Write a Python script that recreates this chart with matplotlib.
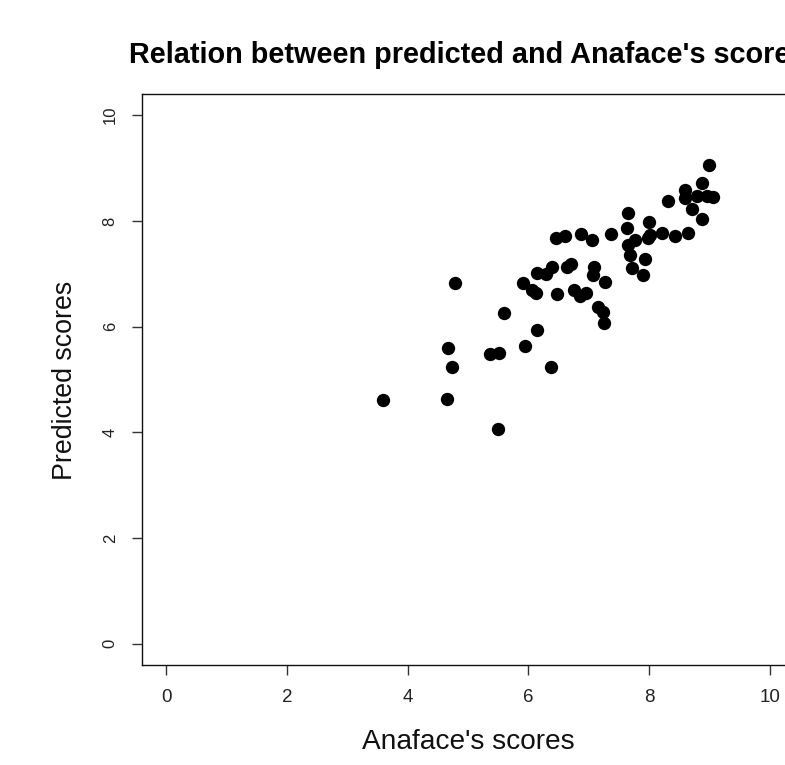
import matplotlib
matplotlib.use("Agg")
import matplotlib.pyplot as plt

anaface = [3.59, 4.65, 4.67, 4.74, 4.78, 5.50, 5.36, 5.51, 5.60, 5.94,
           6.14, 6.37, 5.91, 6.06, 6.13, 6.14, 6.29, 6.39, 6.46, 6.47,
           6.61, 6.87, 7.05, 7.37, 7.63, 7.65, 7.65, 7.76, 7.68, 7.71,
           7.90, 7.93, 7.09, 7.07, 7.27, 6.64, 6.71, 6.75, 6.85, 6.95,
           7.15, 7.24, 7.25, 8.99, 8.87, 8.59, 8.31, 8.59, 8.79, 8.96,
           9.06, 8.71, 8.87, 8.64, 8.43, 8.21, 8.01, 8.00, 7.98]
predicted = [4.62, 4.64, 5.59, 5.23, 6.82, 4.07, 5.49, 5.51, 6.25, 5.64,
             5.93, 5.23, 6.82, 6.69, 6.63, 7.01, 6.99, 7.12, 7.67, 6.61,
             7.71, 7.75, 7.63, 7.75, 7.86, 8.14, 7.54, 7.63, 7.35, 7.10,
             6.97, 7.27, 7.12, 6.97, 6.84, 7.12, 7.18, 6.70, 6.57, 6.63,
             6.38, 6.27, 6.06, 9.05, 8.71, 8.58, 8.37, 8.43, 8.48, 8.48,
             8.45, 8.22, 8.03, 7.78, 7.71, 7.77, 7.73, 7.97, 7.67]
ticks = [0, 2, 4, 6, 8, 10]

W, H = 785, 765
fig = plt.figure(figsize=(W / 100, H / 100), dpi=100)
plt.rcParams['font.family'] = ['Liberation Sans', 'DejaVu Sans']

x0, x1, y0, y1 = 142, 794, 94, 665
ax = fig.add_axes([x0 / W, 1 - y1 / H, (x1 - x0) / W, (y1 - y0) / H])
ax.plot(anaface, predicted, 'o', color='black', ms=9.6, mec='black', mew=0)
ax.set_xlim(-0.4, 10.4)
ax.set_ylim(-0.4, 10.4)
ax.set_xticks(ticks)
ax.set_yticks(ticks)
ax.set_xticklabels([str(t) for t in ticks], fontsize=13.5, color='#222222')
ax.set_yticklabels([str(t) for t in ticks], fontsize=12, rotation=90,
                   va='center', color='#222222')
ax.tick_params(axis='x', length=7.5, width=1, pad=10, color='#333333')
ax.tick_params(axis='y', length=7.5, width=1, pad=10, color='#333333')
for s in ax.spines.values():
    s.set_linewidth(1.0)
    s.set_color('#111111')

fig.text(468 / W, 1 - 55 / H, "Relation between predicted and Anaface's scores",
         ha='center', va='center', fontsize=20.8, fontweight='bold', color='black')
fig.text(468 / W, 1 - 742 / H, "Anaface's scores", ha='center', va='center',
         fontsize=20.2, color='#111111')
fig.text(65 / W, 1 - 380 / H, "Predicted scores", ha='center', va='center',
         rotation=90, fontsize=19.3, color='#111111')

fig.savefig("out.png", dpi=100)
